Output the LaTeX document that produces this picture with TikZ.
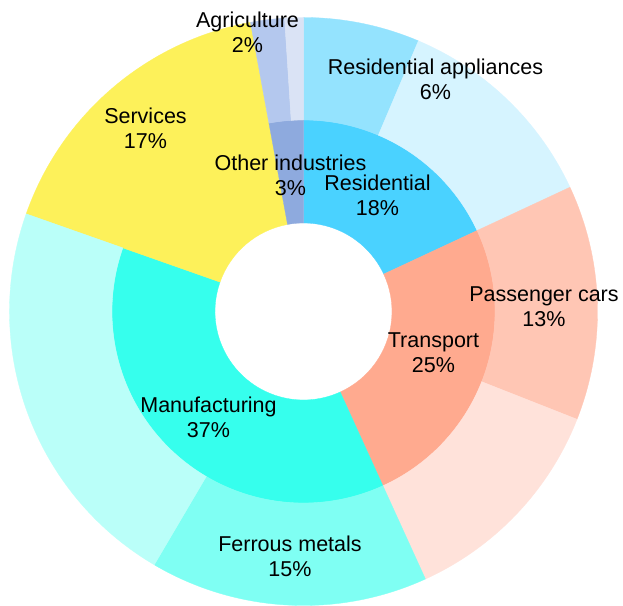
\documentclass[tikz,border=0pt]{standalone}
\usepackage{fontspec}
\setmainfont{Liberation Sans}
\definecolor{resin}{HTML}{4AD2FF}
\definecolor{resapp}{HTML}{94E3FE}
\definecolor{resrest}{HTML}{D6F4FF}
\definecolor{trin}{HTML}{FFAA8F}
\definecolor{trcar}{HTML}{FFC6B4}
\definecolor{trrest}{HTML}{FFE2DA}
\definecolor{mfin}{HTML}{36FFED}
\definecolor{mfferr}{HTML}{7FFFF3}
\definecolor{mfrest}{HTML}{BAFFF9}
\definecolor{serv}{HTML}{FDF15A}
\definecolor{othin}{HTML}{8EAADE}
\definecolor{othagr}{HTML}{B4C8EE}
\definecolor{othrest}{HTML}{DAE3F5}
\newcommand{\myseg}[5]{\filldraw[fill=#1,draw=#1,line width=0.3pt] (#2:#5) arc[start angle=#2, end angle=#3, radius=#5] -- (#3:#4) arc[start angle=#3, end angle=#2, radius=#4] -- cycle;}
\tikzset{lbl/.style={align=center, inner sep=0pt, font=\fontsize{21.5}{25}\selectfont, text=black}}
\begin{document}
\begin{tikzpicture}[x=1pt,y=1pt]
\useasboundingbox (0pt,0pt) rectangle (623pt,605pt);
\clip (0pt,0pt) rectangle (623pt,605pt);
\fill[white] (0pt,0pt) rectangle (623pt,605pt);
\begin{scope}[shift={(303.5pt,293.5pt)}]
% inner ring
\myseg{resin}{90}{25}{88.5pt}{191.5pt}
\myseg{trin}{25}{-65.5}{88.5pt}{191.5pt}
\myseg{mfin}{-65.5}{-199.4}{88.5pt}{191.5pt}
\myseg{serv}{-199.4}{-259.6}{88.5pt}{294pt}
\myseg{othin}{100.4}{90}{88.5pt}{191.5pt}
% outer ring
\myseg{resapp}{90}{67}{191.5pt}{294pt}
\myseg{resrest}{67}{25}{191.5pt}{294pt}
\myseg{trcar}{25}{-21.5}{191.5pt}{294pt}
\myseg{trrest}{-21.5}{-65.5}{191.5pt}{294pt}
\myseg{mfferr}{-65.5}{-120.5}{191.5pt}{294pt}
\myseg{mfrest}{-120.5}{-199.4}{191.5pt}{294pt}
\myseg{othagr}{100.4}{93.7}{191.5pt}{294pt}
\myseg{othrest}{93.7}{90}{191.5pt}{294pt}
\end{scope}
\node[lbl] (agr) at (247.5pt,572.5pt) {Agriculture\\2\%};
\node[lbl] (rapp) at (435.5pt,526pt) {Residential appliances\\6\%};
\node[lbl] (serv) at (145.5pt,477pt) {Services\\17\%};
\node[lbl] (oth) at (290.5pt,430pt) {Other industries\\3\%};
\node[lbl] (res) at (377.5pt,410pt) {Residential\\18\%};
\node[lbl] (pcar) at (544pt,298pt) {Passenger cars\\13\%};
\node[lbl] (trn) at (433.5pt,252pt) {Transport\\25\%};
\node[lbl] (mfg) at (208.5pt,187.5pt) {Manufacturing\\37\%};
\node[lbl] (ferr) at (290pt,49pt) {Ferrous metals\\15\%};
\end{tikzpicture}
\end{document}
